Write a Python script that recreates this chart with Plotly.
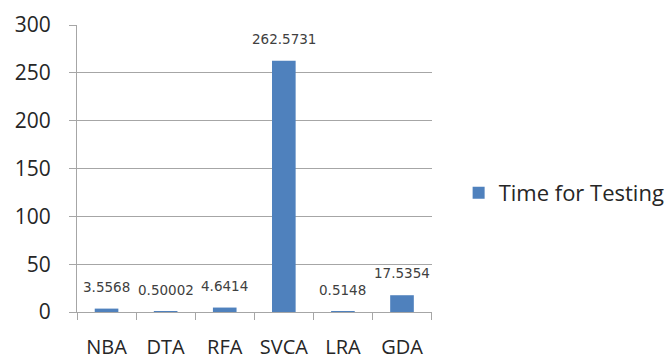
import plotly.graph_objects as go

# Testing time per algorithm
algorithms = ["NBA", "DTA", "RFA", "SVCA", "LRA", "GDA"]
time_for_testing = [3.5568, 0.50002, 4.6414, 262.5731, 0.5148, 17.5354]
y_ticks = [0, 50, 100, 150, 200, 250, 300]

bar_color = "#4F81BD"
grid_color = "#A6A6A6"
text_color = "#404040"

fig = go.Figure()
fig.add_trace(go.Bar(
    x=algorithms,
    y=time_for_testing,
    name="Time for Testing",
    marker=dict(color=bar_color, line=dict(width=0)),
    width=0.4,
))

# value labels above each bar
for cat, val in zip(algorithms, time_for_testing):
    fig.add_annotation(
        x=cat, y=val, text=str(val), showarrow=False,
        yanchor="bottom", yshift=12,
        font=dict(family="DejaVu Sans", size=13.5, color=text_color),
    )

fig.update_layout(
    width=672, height=359,
    margin=dict(l=77, r=240, t=25, b=47, autoexpand=False),
    paper_bgcolor="white", plot_bgcolor="white",
    bargap=0.6,
    showlegend=True,
    legend=dict(
        x=1.075, y=0.415, xanchor="left", yanchor="middle",
        font=dict(family="Open Sans", size=22, color="#262626"),
        bgcolor="rgba(0,0,0,0)",
    ),
)

fig.update_xaxes(
    type="category",
    tickson="boundaries",
    ticks="outside", ticklen=7, tickcolor=grid_color,
    showline=True, linecolor=grid_color, linewidth=1,
    showgrid=False,
    tickangle=0,
    automargin=False,
    ticklabelstandoff=17,
    tickfont=dict(family="Open Sans", size=20, color="#262626"),
)
fig.update_yaxes(
    range=[0, 300],
    tickvals=y_ticks,
    ticks="outside", ticklen=7, tickcolor=grid_color,
    showline=True, linecolor=grid_color, linewidth=1,
    showgrid=True, gridcolor=grid_color, gridwidth=1,
    zeroline=False,
    automargin=False,
    ticklabelstandoff=14,
    tickfont=dict(family="Open Sans", size=21, color="#262626"),
)

fig.write_html("out.html")
